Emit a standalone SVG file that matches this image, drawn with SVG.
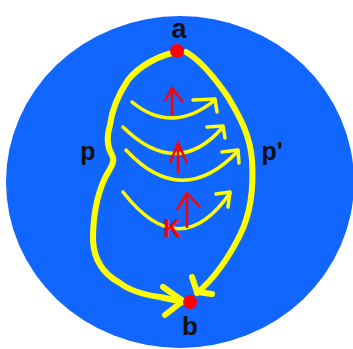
<svg xmlns="http://www.w3.org/2000/svg" width="353" height="349" viewBox="0 0 353 349">
<style>
.loop{fill:none;stroke:#ffff00;stroke-width:6;stroke-linecap:round;stroke-linejoin:round}
.arc{fill:none;stroke:#ffff00;stroke-width:3.5;stroke-linecap:round;stroke-linejoin:round}
.red{fill:none;stroke:#ff0000;stroke-width:2.5;stroke-linecap:butt;stroke-linejoin:miter}
.lbl{font-family:"Liberation Sans",Arial,sans-serif;font-weight:bold;fill:#111;text-anchor:middle}
</style>
<rect width="353" height="349" fill="#ffffff"/>
<ellipse id="disk" cx="180" cy="182" rx="174" ry="166" fill="#1166ff"/>
<g id="connectors">
<path class="loop" d="M177,52 C160,55 140,65 128,80 C118,95 112,110 110,125 C107,135 106,145 112,155 C116,162 110,168 105,178 C97,195 93,215 93,240 C94,262 105,275 120,283 C130,291 145,295 160,297 L183,302"/>
<polyline class="loop" points="163,287 183,301 165,315"/>
<path class="loop" d="M186,52 C200,60 215,78 228,97 C240,117 250,135 252,160 C254,190 250,215 240,235 C230,255 215,278 197,293"/>
<polyline class="loop" points="192,277 197,292 212,294"/>
<path class="arc" d="M132,102 Q172,135 215,100"/>
<polyline class="arc" points="193,100 215,99 217,112"/>
<path class="arc" d="M123,127 Q177,180 223,127"/>
<polyline class="arc" points="207,127 223,126 225,138"/>
<path class="arc" d="M126,150 Q182,210 238,151"/>
<polyline class="arc" points="222,152 238,150 239,163"/>
<path class="arc" d="M123,192 Q180,265 230,193"/>
<polyline class="arc" points="216,194 230,192 228,207"/>
<line class="red" x1="172" y1="115" x2="172" y2="89"/>
<polyline class="red" points="165,101 172,88 183,102"/>
<line class="red" x1="178" y1="173" x2="178" y2="144"/>
<polyline class="red" points="170,163 178,143 187,163"/>
<line class="red" x1="187" y1="228" x2="187" y2="194"/>
<polyline class="red" points="177,210 187,193 200,207"/>
</g>
<g id="node-a">
<circle cx="177" cy="51" r="7" fill="#ff0000"/>
<text class="lbl" x="179" y="38" font-size="27">a</text>
</g>
<g id="node-b">
<circle cx="190" cy="302" r="7" fill="#ff0000"/>
<text class="lbl" x="190" y="335" font-size="26">b</text>
</g>
<g id="label-p"><text class="lbl" x="88" y="160" font-size="25">p</text></g>
<g id="label-p-prime"><text class="lbl" x="272" y="160" font-size="25">p'</text></g>
<g id="label-K"><text class="lbl" x="172" y="237" font-size="25" style="fill:#ff0000">K</text></g>
</svg>
